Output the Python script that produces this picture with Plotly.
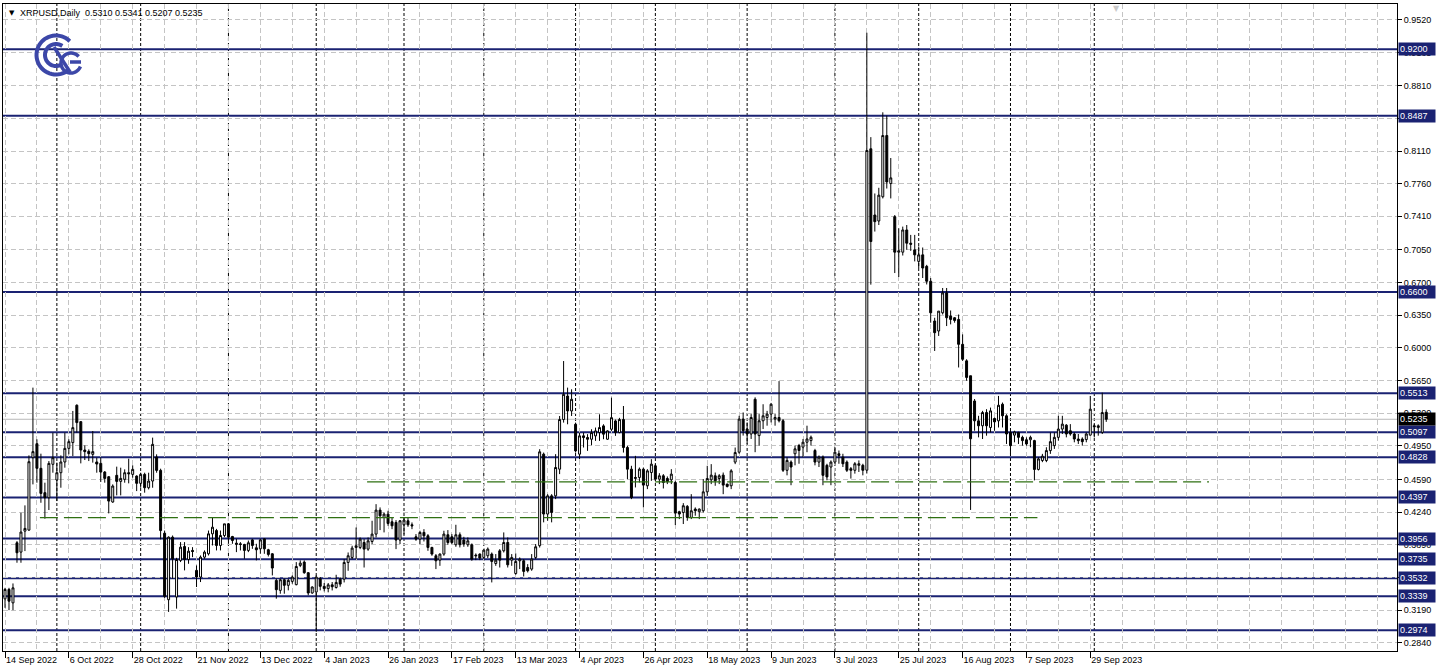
import numpy as np
import plotly.graph_objects as go

# ---------------- data (XRPUSD, Daily, weekday bars) ----------------
opens = [0.3310,0.3411,0.3267,0.3911,0.3811,0.4036,0.4047,0.4823,0.4973,0.4709,
0.4448,0.4394,0.4752,0.4584,0.4662,0.4777,0.4923,0.4985,0.5385,0.5209,
0.4905,0.4891,0.4859,0.4777,0.4762,0.4669,0.4619,0.4348,0.4634,0.4569,
0.4591,0.4662,0.4644,0.4626,0.4548,0.4644,0.4501,0.4573,0.4830,0.4687,
0.4014,0.3301,0.3971,0.3330,0.3722,0.3871,0.3732,0.3829,0.3615,0.3544,
0.3757,0.3793,0.4007,0.4042,0.3882,0.3989,0.4114,0.3978,0.3907,0.3900,
0.3893,0.3829,0.3942,0.3857,0.3846,0.3953,0.3836,0.3793,0.3508,0.3401,
0.3515,0.3455,0.3497,0.3462,0.3668,0.3704,0.3590,0.3373,0.3383,0.3526,
0.3444,0.3420,0.3460,0.3432,0.3521,0.3521,0.3700,0.3754,0.3861,0.3861,
0.3914,0.3843,0.3925,0.4004,0.4261,0.4183,0.4218,0.4136,0.4129,0.3940,
0.4104,0.4147,0.4104,0.3975,0.3950,0.4022,0.3986,0.3861,0.3772,0.3725,
0.3790,0.3997,0.3975,0.3890,0.3997,0.3940,0.3890,0.3890,0.3779,0.3790,
0.3754,0.3772,0.3790,0.3689,0.3825,0.3825,0.3914,0.3725,0.3582,0.3718,
0.3718,0.3646,0.3629,0.3754,0.3880,0.4861,0.4219,0.4414,0.4414,0.4700,
0.5232,0.5484,0.5324,0.5181,0.4861,0.5057,0.5039,0.5021,0.5057,0.5092,
0.5164,0.5021,0.5128,0.5217,0.5092,0.5232,0.4932,0.4700,0.4600,0.4611,
0.4700,0.4522,0.4664,0.4736,0.4593,0.4629,0.4600,0.4586,0.4557,0.4244,
0.4236,0.4301,0.4183,0.4272,0.4244,0.4254,0.4457,0.4586,0.4629,0.4600,
0.4636,0.4540,0.4522,0.4776,0.4882,0.5237,0.5130,0.5077,0.5449,0.5060,
0.5219,0.5254,0.5290,0.5237,0.5254,0.5219,0.4688,0.4776,0.4865,0.4953,
0.4936,0.4989,0.5006,0.4900,0.4776,0.4829,0.4741,0.4723,0.4776,0.4865,
0.4829,0.4776,0.4705,0.4688,0.4741,0.4741,0.4689,0.8134,0.7424,0.7360,
0.7620,0.8276,0.7761,0.7406,0.7026,0.7026,0.7264,0.7122,0.7051,0.6927,
0.6997,0.6874,0.6714,0.6288,0.6181,0.6376,0.6589,0.6341,0.6323,0.6305,
0.6038,0.5861,0.5701,0.5431,0.5218,0.5165,0.5307,0.5147,0.5243,0.5218,
0.5396,0.5272,0.5094,0.5065,0.5094,0.5041,0.5015,0.5015,0.5006,0.4697,
0.4793,0.4793,0.4899,0.4952,0.5041,0.5130,0.5172,0.5112,0.5077,0.5023,
0.5023,0.5017,0.5065,0.5165,0.5147,0.5094,0.5310]
highs = [0.3428,0.3428,0.3475,0.3929,0.4233,0.4312,0.4848,0.5574,0.5020,0.4866,
0.4555,0.4787,0.5091,0.4770,0.4848,0.5091,0.5020,0.5324,0.5395,0.5216,
0.4955,0.4912,0.5109,0.4823,0.4823,0.4680,0.4626,0.4537,0.4727,0.4716,
0.4698,0.4812,0.4741,0.4634,0.4662,0.4662,0.4662,0.5038,0.4859,0.4705,
0.4042,0.3980,0.3989,0.3750,0.3918,0.3918,0.3864,0.3864,0.3668,0.3775,
0.3829,0.4042,0.4185,0.4060,0.4042,0.4114,0.4120,0.3985,0.3953,0.3918,
0.3900,0.3935,0.3953,0.3900,0.3953,0.3960,0.3846,0.3800,0.3526,0.3526,
0.3526,0.3526,0.3561,0.3704,0.3722,0.3722,0.3597,0.3444,0.3561,0.3544,
0.3480,0.3480,0.3490,0.3568,0.3539,0.3736,0.3807,0.3879,0.4075,0.3968,
0.3950,0.3968,0.4147,0.4325,0.4290,0.4236,0.4254,0.4183,0.4154,0.4154,
0.4183,0.4183,0.4129,0.4004,0.4040,0.4057,0.4004,0.3868,0.3790,0.3797,
0.4040,0.4047,0.4004,0.4104,0.4022,0.3975,0.3968,0.3904,0.3797,0.3797,
0.3843,0.3861,0.3807,0.3790,0.3843,0.4022,0.3968,0.3790,0.3797,0.3754,
0.3736,0.3682,0.3790,0.3897,0.4914,0.4878,0.4432,0.4432,0.4861,0.5270,
0.5859,0.5574,0.5556,0.5199,0.5092,0.5092,0.5075,0.5128,0.5146,0.5288,
0.5181,0.5117,0.5467,0.5232,0.5250,0.5377,0.4950,0.4736,0.4843,0.4718,
0.4718,0.4700,0.4807,0.4754,0.4657,0.4647,0.4622,0.4700,0.4575,0.4254,
0.4336,0.4315,0.4432,0.4290,0.4279,0.4593,0.4736,0.4754,0.4664,0.4647,
0.4664,0.4545,0.4700,0.4932,0.5272,0.5308,0.5201,0.5290,0.5470,0.5290,
0.5396,0.5325,0.5410,0.5290,0.5644,0.5237,0.4829,0.4794,0.4953,0.4971,
0.5024,0.5166,0.5060,0.4918,0.4847,0.4847,0.4758,0.4794,0.4936,0.4900,
0.4865,0.4794,0.4723,0.4776,0.4794,0.4758,0.9378,0.8259,0.7655,0.7716,
0.8525,0.8489,0.8035,0.7424,0.7282,0.7300,0.7317,0.7211,0.7211,0.7087,
0.7076,0.6890,0.6749,0.6323,0.6394,0.6642,0.6642,0.6401,0.6330,0.6358,
0.6145,0.5878,0.5701,0.5452,0.5272,0.5325,0.5343,0.5360,0.5254,0.5485,
0.5414,0.5289,0.5112,0.5112,0.5101,0.5059,0.5041,0.5059,0.5015,0.4828,
0.4864,0.4935,0.5094,0.5094,0.5272,0.5272,0.5183,0.5183,0.5094,0.5077,
0.5041,0.5094,0.5485,0.5183,0.5180,0.5520,0.5341]
lows = [0.3214,0.3189,0.3189,0.3697,0.3697,0.3822,0.4040,0.4537,0.4555,0.4340,
0.4169,0.4262,0.4662,0.4358,0.4501,0.4716,0.4859,0.4841,0.5091,0.4762,
0.4798,0.4787,0.4770,0.4662,0.4562,0.4555,0.4226,0.4340,0.4419,0.4419,
0.4555,0.4548,0.4609,0.4465,0.4501,0.4448,0.4483,0.4501,0.4662,0.3947,
0.3320,0.3170,0.3526,0.3205,0.3704,0.3615,0.3686,0.3757,0.3437,0.3490,
0.3739,0.3775,0.3882,0.3829,0.3829,0.3971,0.3900,0.3900,0.3811,0.3829,
0.3739,0.3811,0.3846,0.3722,0.3793,0.3793,0.3764,0.3561,0.3312,0.3365,
0.3365,0.3401,0.3472,0.3455,0.3650,0.3579,0.3348,0.3365,0.2956,0.3401,
0.3390,0.3380,0.3400,0.3420,0.3440,0.3486,0.3611,0.3736,0.3736,0.3843,
0.3646,0.3825,0.3897,0.3968,0.4047,0.4022,0.4093,0.4057,0.3843,0.3897,
0.4000,0.4082,0.4057,0.3932,0.3897,0.3925,0.3825,0.3772,0.3629,0.3664,
0.3772,0.3890,0.3897,0.3868,0.3861,0.3868,0.3868,0.3718,0.3725,0.3725,
0.3736,0.3747,0.3486,0.3664,0.3646,0.3807,0.3646,0.3664,0.3568,0.3629,
0.3550,0.3593,0.3611,0.3736,0.3860,0.4130,0.4147,0.4130,0.4379,0.4647,
0.5199,0.5181,0.5270,0.4878,0.4807,0.4932,0.4896,0.4957,0.5003,0.5003,
0.5021,0.5014,0.5110,0.5057,0.5085,0.4878,0.4593,0.4379,0.4504,0.4557,
0.4290,0.4486,0.4575,0.4575,0.4540,0.4493,0.4540,0.4540,0.4101,0.4165,
0.4112,0.4147,0.4165,0.4201,0.4165,0.4236,0.4414,0.4540,0.4522,0.4540,
0.4432,0.4504,0.4486,0.4754,0.4865,0.5060,0.4971,0.5024,0.4882,0.4953,
0.5130,0.5166,0.5201,0.5166,0.5201,0.4670,0.4634,0.4528,0.4741,0.4758,
0.4829,0.4882,0.4953,0.4741,0.4723,0.4528,0.4581,0.4528,0.4758,0.4758,
0.4723,0.4670,0.4599,0.4652,0.4670,0.4634,0.4653,0.6678,0.7247,0.7317,
0.7602,0.7708,0.7602,0.6802,0.6760,0.6990,0.7051,0.7040,0.6927,0.6856,
0.6749,0.6680,0.6270,0.5967,0.6128,0.6358,0.6234,0.6252,0.6270,0.5790,
0.5861,0.5648,0.4263,0.5112,0.5041,0.5023,0.5059,0.5094,0.5112,0.5147,
0.5147,0.4970,0.4864,0.4988,0.4970,0.4952,0.4952,0.4935,0.4580,0.4686,
0.4775,0.4775,0.4864,0.4917,0.5006,0.5077,0.5041,0.5059,0.4988,0.4970,
0.4952,0.4988,0.5059,0.5041,0.5059,0.5077,0.5207]
closes = [0.3411,0.3285,0.3428,0.3804,0.4026,0.4065,0.4780,0.4888,0.4709,0.4440,
0.4394,0.4762,0.4823,0.4662,0.4777,0.4923,0.4995,0.5145,0.5199,0.4905,
0.4888,0.4866,0.4888,0.4755,0.4669,0.4601,0.4358,0.4519,0.4569,0.4601,
0.4662,0.4651,0.4698,0.4548,0.4644,0.4501,0.4573,0.4966,0.4687,0.4042,
0.3337,0.3971,0.3739,0.3732,0.3864,0.3732,0.3821,0.3818,0.3544,0.3757,
0.3811,0.4007,0.4078,0.3882,0.3989,0.4114,0.3971,0.3935,0.3896,0.3893,
0.3829,0.3911,0.3882,0.3836,0.3942,0.3846,0.3786,0.3640,0.3408,0.3515,
0.3455,0.3508,0.3544,0.3657,0.3693,0.3590,0.3373,0.3437,0.3544,0.3444,
0.3420,0.3460,0.3440,0.3486,0.3468,0.3700,0.3772,0.3854,0.3879,0.3950,
0.3843,0.3932,0.4004,0.4261,0.4200,0.4218,0.4118,0.4093,0.3940,0.4147,
0.4154,0.4104,0.4093,0.3950,0.4022,0.3986,0.3861,0.3790,0.3718,0.3790,
0.4004,0.3914,0.3914,0.3997,0.3890,0.3897,0.3932,0.3736,0.3772,0.3747,
0.3832,0.3843,0.3711,0.3725,0.3725,0.3914,0.3675,0.3754,0.3711,0.3736,
0.3604,0.3611,0.3736,0.3868,0.4886,0.4219,0.4414,0.4236,0.4718,0.5232,
0.5502,0.5324,0.5449,0.4896,0.5057,0.5039,0.5021,0.5092,0.5110,0.5146,
0.5075,0.5110,0.5252,0.5092,0.5232,0.4932,0.4700,0.4397,0.4611,0.4700,
0.4529,0.4682,0.4754,0.4593,0.4629,0.4557,0.4565,0.4647,0.4229,0.4219,
0.4308,0.4183,0.4254,0.4254,0.4272,0.4457,0.4600,0.4636,0.4575,0.4629,
0.4529,0.4515,0.4682,0.4878,0.5237,0.5113,0.5077,0.5254,0.5077,0.5219,
0.5272,0.5290,0.5396,0.5254,0.5219,0.4688,0.4794,0.4723,0.4918,0.4900,
0.4989,0.5024,0.5042,0.4776,0.4829,0.4634,0.4617,0.4776,0.4882,0.4847,
0.4758,0.4688,0.4688,0.4758,0.4758,0.4688,0.8116,0.7140,0.7353,0.7637,
0.8276,0.7779,0.7822,0.7026,0.7040,0.7264,0.7122,0.7111,0.6997,0.6997,
0.6856,0.6714,0.6376,0.6163,0.6394,0.6589,0.6323,0.6305,0.6294,0.6038,
0.5878,0.5683,0.5026,0.5218,0.5165,0.5307,0.5165,0.5325,0.5207,0.5385,
0.5272,0.5077,0.4952,0.5100,0.5041,0.5006,0.4970,0.5041,0.4697,0.4810,
0.4839,0.4899,0.4995,0.5041,0.5130,0.5183,0.5077,0.5077,0.5023,0.5006,
0.4995,0.5077,0.5343,0.5154,0.5165,0.5307,0.5235]

date_labels = ["14 Sep 2022", "6 Oct 2022", "28 Oct 2022", "21 Nov 2022", "13 Dec 2022",
               "4 Jan 2023", "26 Jan 2023", "17 Feb 2023", "13 Mar 2023", "4 Apr 2023",
               "26 Apr 2023", "18 May 2023", "9 Jun 2023", "3 Jul 2023", "25 Jul 2023",
               "16 Aug 2023", "7 Sep 2023", "29 Sep 2023"]
bars_per_label = 16
month_start_bars = [13, 34, 56, 78, 100, 120, 143, 163, 186, 208, 229, 252, 273]
price_ticks = [0.9520, 0.9165, 0.8810, 0.8455, 0.8110, 0.7760, 0.7410, 0.7050, 0.6700, 0.6350,
               0.6000, 0.5650, 0.5300, 0.4950, 0.4590, 0.4240, 0.3890, 0.3540, 0.3190, 0.2840]
level_prices = [0.9200, 0.8487, 0.6600, 0.5513, 0.5097, 0.4828, 0.4397,
                0.3956, 0.3735, 0.3532, 0.3339, 0.2974]
trend_prices = [0.4563, 0.4180]
trend_start_bar = [90.75, 8.75]
trend_end_bar = [301.75, 258.75]
symbol = "XRPUSD,Daily"

# ---------------- styling ----------------
W, H = 1438, 671
ML, MR, MT, MB = 3, 41, 4, 20
PW, PH = W - ML - MR, H - MT - MB
BAR_PX = 3.99
X0 = -(5 - ML) / BAR_PX
X1 = X0 + PW / BAR_PX
Y0, Y1 = 0.2751, 0.9686
FONT = "Liberation Sans"
NAVY = "#1a2272"
GRID = "#c4c4c4"
GREEN = "#2f7012"

n = len(closes)
xs = list(range(n))

fig = go.Figure()
fig.add_trace(go.Candlestick(
    x=xs, open=opens, high=highs, low=lows, close=closes,
    increasing=dict(line=dict(color="black", width=1), fillcolor="white"),
    decreasing=dict(line=dict(color="black", width=1), fillcolor="black"),
    whiskerwidth=0, hoverinfo="skip", showlegend=False))

shapes = []
# month separators
for b in month_start_bars:
    shapes.append(dict(type="line", xref="x", yref="paper", x0=b, x1=b, y0=0, y1=1,
                       line=dict(color="black", width=1, dash="3px,2px"), layer="between"))
# current price line
shapes.append(dict(type="line", xref="paper", yref="y", x0=0, x1=1, y0=closes[-1], y1=closes[-1],
                   line=dict(color="#b8b8b8", width=1), layer="between"))
# horizontal levels
for p in level_prices:
    shapes.append(dict(type="line", xref="paper", yref="y", x0=0, x1=1, y0=p, y1=p,
                       line=dict(color=NAVY, width=2), layer="between"))
# green dashed trend lines
for p, a, b in zip(trend_prices, trend_start_bar, trend_end_bar):
    shapes.append(dict(type="line", xref="x", yref="y", x0=a, x1=b, y0=p, y1=p,
                       line=dict(color=GREEN, width=1.3, dash="18px,6px"), layer="above"))

# logo (decorative), built in pixel space then mapped to paper coords
def px2paper(px, py):
    return (px - ML) / PW, 1 - (py - MT) / PH

def arc_path(cx, cy, r, a0, a1, steps=40):
    angs = np.radians(np.linspace(a0, a1, steps))
    pts = [px2paper(cx + r * np.cos(t), cy - r * np.sin(t)) for t in angs]
    return "M " + " L ".join(f"{x:.5f},{y:.5f}" for x, y in pts)

LOGO = "#3c47a8"
shapes.append(dict(type="path", xref="paper", yref="paper", path=arc_path(56, 55, 19.5, 45, 312),
                   line=dict(color=LOGO, width=4)))
shapes.append(dict(type="path", xref="paper", yref="paper", path=arc_path(56, 55, 11, 55, 300),
                   line=dict(color=LOGO, width=4)))
shapes.append(dict(type="path", xref="paper", yref="paper", path=arc_path(71, 63, 10, 40, 340),
                   line=dict(color=LOGO, width=3.5)))
gx0, gy0 = px2paper(70, 62)
gx1, gy1 = px2paper(81, 62)
shapes.append(dict(type="line", xref="paper", yref="paper", x0=gx0, y0=gy0, x1=gx1, y1=gy1,
                   line=dict(color=LOGO, width=3.5)))
ax0, ay0 = px2paper(54, 47)
ax1, ay1 = px2paper(70, 72)
shapes.append(dict(type="line", xref="paper", yref="paper", x0=ax0, y0=ay0, x1=ax1, y1=ay1,
                   line=dict(color=LOGO, width=3.5)))

annotations = []
for p in level_prices:
    annotations.append(dict(x=1, xref="paper", y=p, yref="y", xanchor="left", xshift=1,
                            text=f"{p:.4f}", showarrow=False, bgcolor=NAVY, borderpad=1,
                            width=34, height=10, align="left",
                            font=dict(color="white", size=9, family=FONT)))
annotations.append(dict(x=1, xref="paper", y=closes[-1], yref="y", xanchor="left", xshift=1,
                        text=f"{closes[-1]:.4f}", showarrow=False, bgcolor="black", borderpad=1,
                        width=34, height=10, align="left",
                        font=dict(color="white", size=9, family=FONT)))
# header
annotations.append(dict(x=0, xref="paper", y=1, yref="paper", xanchor="left", yanchor="top",
                        xshift=4, yshift=-3, text="▼", showarrow=False,
                        font=dict(size=7, color="black", family="DejaVu Sans")))
annotations.append(dict(x=0, xref="paper", y=1, yref="paper", xanchor="left", yanchor="top",
                        xshift=15, yshift=-2,
                        text=f"{symbol}  {opens[-1]:.4f} {highs[-1]:.4f} {lows[-1]:.4f} {closes[-1]:.4f}",
                        showarrow=False, font=dict(size=9, color="black", family=FONT)))
# chart shift marker
annotations.append(dict(x=n + 1.5, xref="x", y=1, yref="paper", yanchor="top", yshift=2,
                        text="▼", showarrow=False, font=dict(size=8, color="#c8c8c8", family="DejaVu Sans")))

fig.update_layout(
    width=W, height=H, margin=dict(l=ML, r=MR, t=MT, b=MB),
    paper_bgcolor="white", plot_bgcolor="white",
    shapes=shapes, annotations=annotations, showlegend=False,
    font=dict(family=FONT, size=9, color="black"),
    xaxis=dict(range=[X0, X1], rangeslider=dict(visible=False),
               tickvals=[i * bars_per_label for i in range(len(date_labels))], ticktext=date_labels,
               ticks="outside", ticklen=6, tickcolor="black", ticklabelposition="outside right",
               tickfont=dict(size=9, family=FONT), showgrid=False, zeroline=False,
               showline=True, linecolor="black", linewidth=1, mirror=True,
               minor=dict(tick0=0, dtick=8, showgrid=True, gridcolor=GRID, griddash="5px,3px", gridwidth=1)),
    yaxis=dict(range=[Y0, Y1], side="right", tickvals=price_ticks, tickformat=".4f",
               ticks="outside", ticklen=4, tickcolor="black", tickfont=dict(size=9, family=FONT),
               showgrid=True, gridcolor=GRID, griddash="5px,3px", gridwidth=1, zeroline=False,
               showline=True, linecolor="black", linewidth=1, mirror=True),
)

fig.write_html("out.html", config={"displayModeBar": False},
               post_script="document.body.style.margin='0';document.body.style.overflow='hidden';")
